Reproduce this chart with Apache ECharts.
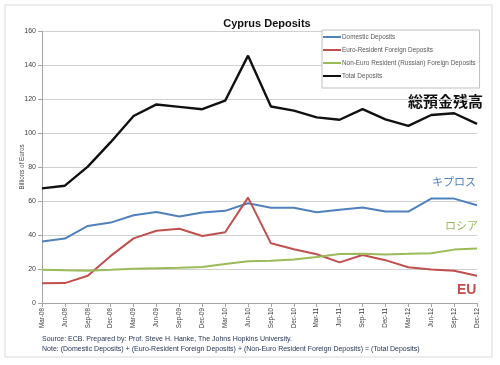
<!DOCTYPE html>
<html><head><meta charset="utf-8">
<script src="https://cdn.jsdelivr.net/npm/echarts@6/dist/echarts.min.js"></script>
<style>html,body{margin:0;padding:0;background:#fff}#c{width:500px;height:365px}</style>
</head><body><div id="c"></div>
<script>
const categories = ['Mar-08','Jun-08','Sep-08','Dec-08','Mar-09','Jun-09','Sep-09','Dec-09','Mar-10','Jun-10','Sep-10','Dec-10','Mar-11','Jun-11','Sep-11','Dec-11','Mar-12','Jun-12','Sep-12','Dec-12'];
const domestic = [36.2,37.9,45.3,47.3,51.6,53.5,50.9,53.2,54.2,58.7,56.0,56.0,53.4,54.8,56.2,53.8,53.8,61.4,61.4,57.5];
const euroResident = [11.6,11.7,16.0,27.7,38.0,42.5,43.7,39.4,41.6,62.0,35.1,31.6,28.7,23.9,28.2,25.2,21.0,19.7,19.0,16.0];
const nonEuro = [19.5,19.2,19.0,19.5,20.2,20.5,20.8,21.2,23.0,24.5,24.8,25.6,27.1,28.8,29.0,28.6,28.9,29.3,31.4,32.0];
const total = [67.4,69.0,80.2,94.6,110.0,116.8,115.4,114.0,119.0,145.5,115.6,113.2,109.2,107.8,114.0,108.0,104.2,110.6,111.6,105.4];
const seriesNames = ['Domestic Deposits','Euro-Resident Foreign Deposits','Non-Euro Resident (Russian) Foreign Deposits','Total Deposits'];
const yTicks = [0,20,40,60,80,100,120,140,160];

const colors = ['#4F81BD','#C0504D','#9BBB59','#111111'];
const chart = echarts.init(document.getElementById('c'), null, {renderer:'canvas'});
const dataSets = [domestic, euroResident, nonEuro, total];
chart.setOption({
  animation:false,
  title:{text:'Cyprus Deposits', left:262, top:13, textAlign:'center',
    textStyle:{fontFamily:'Liberation Sans', fontSize:11, fontWeight:'bold', color:'#111'}},
  legend:{
    data:seriesNames, orient:'vertical', left:322, top:30, itemWidth:18, itemHeight:2, itemGap:5,
    padding:[3,4,8,1], borderColor:'#bfbfbf', borderWidth:1, backgroundColor:'#fff',
    icon:'rect', textStyle:{fontFamily:'Liberation Sans', fontSize:6.4, lineHeight:8, color:'#595959', padding:[0,0,0,-4]}
  },
  grid:{left:42, right:23, top:31, bottom:62},
  xAxis:{type:'category', data:categories, boundaryGap:false,
    axisLine:{lineStyle:{color:'#a6a6a6'}}, axisTick:{show:true, lineStyle:{color:'#a6a6a6'}, length:4},
    axisLabel:{rotate:90, fontSize:6.3, fontFamily:'Liberation Sans', color:'#404040', interval:0, margin:5}},
  yAxis:{type:'value', min:0, max:160, interval:20,
    name:'Billions of Euros', nameLocation:'middle', nameGap:17, nameRotate:90, nameMoveOverlap:false,
    nameTextStyle:{fontSize:6.3, fontFamily:'Liberation Sans', color:'#404040'},
    axisLine:{show:true, lineStyle:{color:'#a6a6a6'}}, axisTick:{show:true, inside:false, length:4, lineStyle:{color:'#a6a6a6'}},
    splitLine:{lineStyle:{color:'#d0d0d0', width:1}},
    axisLabel:{fontSize:7, fontFamily:'Liberation Sans', color:'#404040', margin:6,
      formatter:v=> yTicks.includes(v) ? String(v) : ''}},
  series: seriesNames.map((n,i)=>({
    name:n, type:'line', data:dataSets[i], symbol:'none', z: i===3?3:2,
    lineStyle:{color:colors[i], width: i===3?2.4:2}, itemStyle:{color:colors[i]}
  })),
  graphic:[
    {type:'rect', shape:{x:5,y:5,width:487,height:352}, style:{fill:'none', stroke:'#d9d9d9', lineWidth:1}, z:-1},
    {type:'text', left:408, top:94, style:{text:'総預金残高', font:'bold 15px "Noto Sans CJK JP"', fill:'#111'}},
    {type:'text', left:432, top:176, style:{text:'キプロス', font:'11px "Noto Sans CJK JP"', fill:'#4F81BD'}},
    {type:'text', left:445, top:220, style:{text:'ロシア', font:'11px "Noto Sans CJK JP"', fill:'#9BBB59'}},
    {type:'text', left:457, top:283, style:{text:'EU', font:'bold 14px "Liberation Sans"', fill:'#C0504D'}},
    {type:'text', left:42, top:336, style:{text:'Source: ECB. Prepared by: Prof. Steve H. Hanke, The Johns Hopkins University.', font:'7px "Liberation Sans"', fill:'#1f2f4f'}},
    {type:'text', left:42, top:346, style:{text:'Note: (Domestic Deposits) + (Euro-Resident Foreign Deposits) + (Non-Euro Resident Foreign Deposits) = (Total Deposits)', font:'7px "Liberation Sans"', fill:'#1f2f4f'}}
  ]
});
</script></body></html>
